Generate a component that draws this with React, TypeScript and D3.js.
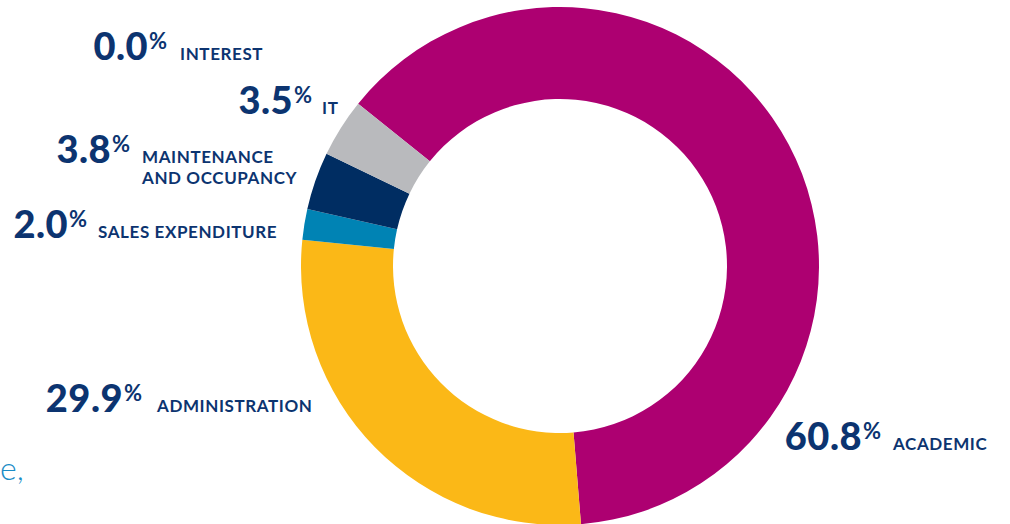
import React from "react";
import * as d3 from "d3";

// Categories in drawing order (clockwise from the IT/Academic boundary)
const categories = ["ACADEMIC", "ADMINISTRATION", "SALES EXPENDITURE", "MAINTENANCE AND OCCUPANCY", "IT", "INTEREST"];
// Percentages printed in the labels
const labelValues = [60.8, 29.9, 2.0, 3.8, 3.5, 0.0];
const sliceValues = [62.9, 27.9, 1.9, 3.6, 3.65, 0.0];
const colors = ["#ad0071", "#fbb817", "#0083b4", "#002d62", "#b9babd", "#8a8a8a"];

// label lines per category
const labelLines: string[][] = [
  ["ACADEMIC"],
  ["ADMINISTRATION"],
  ["SALES EXPENDITURE"],
  ["MAINTENANCE", "AND OCCUPANCY"],
  ["IT"],
  ["INTEREST"],
];

// label layout (number right edge, baseline, label start)
const labelPos = [
  { numEnd: 862, y: 450, lx: 893 },
  { numEnd: 123, y: 412, lx: 157 },
  { numEnd: 68, y: 238, lx: 98 },
  { numEnd: 111, y: 163, lx: 142 },
  { numEnd: 293, y: 114, lx: 322 },
  { numEnd: 148, y: 60, lx: 180 },
];

const W = 1010;
const H = 524;
const cx = 560;
const cy = 266;
const outerR = 259;
const innerR = 167;
const navy = "#0c3470";

export default function App() {
  const pie = d3
    .pie<number>()
    .sort(null)
    .value((d) => d)
    .startAngle((-51.2 * Math.PI) / 180)
    .endAngle((-51.2 * Math.PI) / 180 + 2 * Math.PI);
  const arcs = pie(sliceValues);
  const arc = d3.arc<d3.PieArcDatum<number>>().innerRadius(innerR).outerRadius(outerR);
  const fmt = d3.format(".1f");

  return (
    <svg
      width={W}
      height={H}
      style={{ position: "absolute", left: 0, top: 0, background: "#fff" }}
      fontFamily="Lato, 'Open Sans', sans-serif"
    >
      <g transform={`translate(${cx},${cy})`}>
        {arcs.map((a, i) =>
          a.endAngle - a.startAngle > 0 ? (
            <path key={categories[i]} d={arc(a) || ""} fill={colors[i]} />
          ) : null
        )}
      </g>
      {labelValues.map((v, i) => {
        const p = labelPos[i];
        return (
          <g key={categories[i]} fill={navy}>
            <text x={p.numEnd} y={p.y} textAnchor="end" fontSize={38} fontWeight={900} letterSpacing={0.5}>
              {fmt(v)}
            </text>
            <text x={p.numEnd + 1} y={p.y - 11} fontSize={22} fontWeight={700}>
              %
            </text>
            {labelLines[i].map((line, j) => (
              <text key={j} x={p.lx} y={p.y + j * 21} fontSize={17} fontWeight={700} letterSpacing={0.6}>
                {line}
              </text>
            ))}
          </g>
        );
      })}
      <text x={0} y={480} fontSize={32} fontWeight={300} fill="#1a8cc6">
        e,
      </text>
    </svg>
  );
}
